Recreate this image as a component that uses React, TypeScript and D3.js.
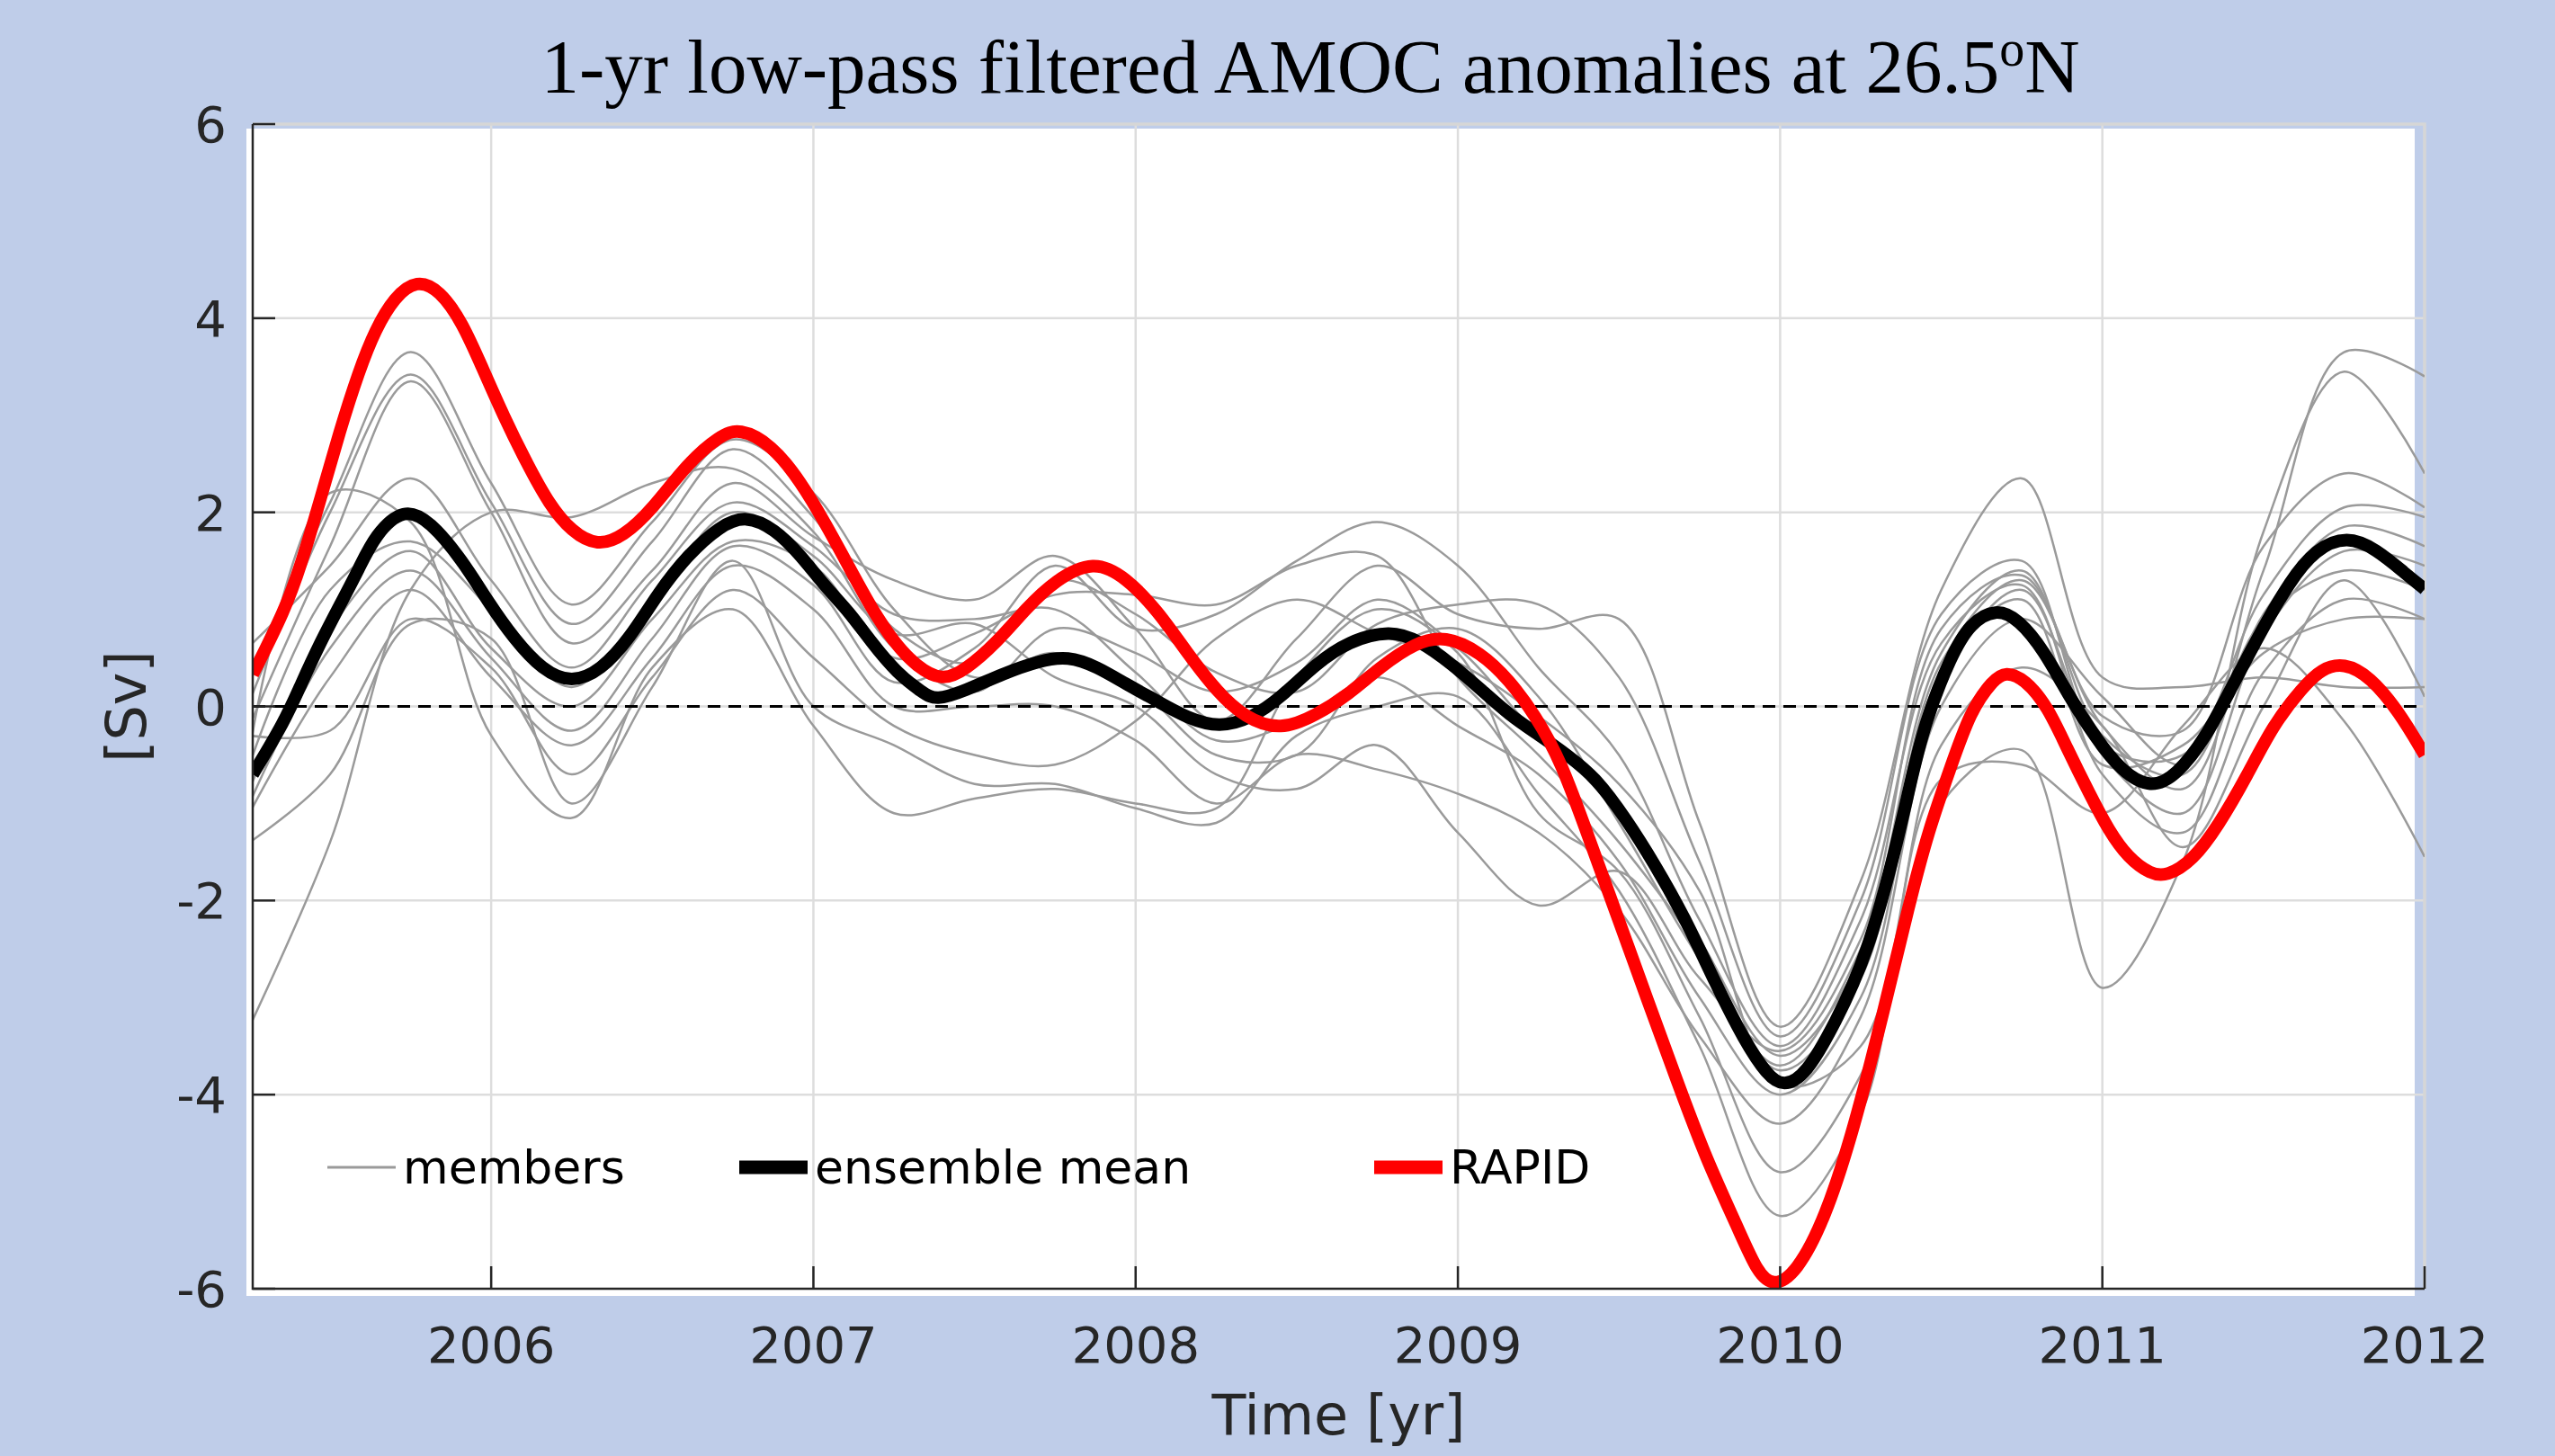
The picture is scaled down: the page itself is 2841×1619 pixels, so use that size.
import React, { useEffect, useRef } from 'react';
import * as d3 from 'd3';

const W = 2841;
const H = 1619;

const yearTicks = [2006, 2007, 2008, 2009, 2010, 2011, 2012];
const svTicks = [-6, -4, -2, 0, 2, 4, 6];

// ensemble members, read at quarter-year steps
const memberYears = [
  2005.25, 2005.5, 2005.75, 2006.0, 2006.25, 2006.5, 2006.75, 2007.0, 2007.25, 2007.5,
  2007.75, 2008.0, 2008.25, 2008.5, 2008.75, 2009.0, 2009.25, 2009.5, 2009.75, 2010.0,
  2010.25, 2010.5, 2010.75, 2011.0, 2011.25, 2011.5, 2011.75, 2012.0,
];
const memberA = [0.35, 2.1, 3.65, 2.3, 1.05, 1.9, 2.75, 2.2, 1.0, 0.3, 0.55, 0.2, -0.5, -0.5, 0.5, 0.8, 0.1, -1.2, -2.6, -3.7, -2.5, 0.55, 1.4, -0.3, -0.7, 1.4, 3.65, 3.4];
const memberB = [0.05, 2.0, 3.42, 2.1, 0.85, 1.7, 2.65, 1.95, 0.8, 0.45, 1.3, 0.95, 0.35, 0.15, 0.85, 1.05, 1.05, 0.3, -1.6, -3.4, -2.0, 0.95, 1.5, -0.4, -0.5, 1.15, 2.05, 1.95];
const memberC = [-0.2, 1.65, 3.35, 2.0, 0.65, 1.4, 2.3, 1.75, 1.3, 1.1, 1.55, 0.8, -0.15, 0.7, 1.45, 0.95, 0.8, 0.9, -1.2, -3.3, -1.8, 1.2, 2.35, 0.3, 0.2, 0.3, 0.2, 0.2];
const memberD = [0.62, 1.45, 2.35, 1.3, 0.4, 1.3, 2.1, 1.65, 0.95, 0.9, 1.0, 0.35, -0.35, -0.15, 0.3, -0.2, -0.7, -1.6, -3.0, -4.0, -3.0, 0.25, 1.2, -0.5, -1.1, 0.75, 1.6, 1.45];
const memberE = [-0.45, 2.2, 1.9, -0.3, -1.15, 0.4, 1.0, -0.2, -1.1, -0.95, -0.85, -1.0, -1.05, 0.3, 1.0, 0.55, -1.1, -1.7, -3.2, -4.8, -3.8, -1.0, -0.45, -2.9, -1.6, 1.8, 3.45, 2.4];
const memberF = [-0.6, 1.2, 1.7, 1.0, 0.2, 1.1, 2.0, 1.55, 0.75, 0.85, 0.3, 0.0, -0.7, -0.85, -0.4, -1.3, -2.05, -1.7, -2.8, -3.55, -2.4, 0.8, 1.35, -0.1, -0.25, 1.65, 2.4, 2.05];
const memberG = [-0.85, 0.8, 1.6, 0.6, 0.0, 0.9, 1.7, 1.45, 0.5, 0.75, 1.15, 1.15, 1.05, 1.45, 1.55, 0.3, -0.5, -1.4, -2.5, -3.75, -2.8, 0.35, 1.1, -0.6, -0.4, 0.55, 0.9, 0.9];
const memberH = [-1.0, 0.6, 1.4, 0.5, -0.25, 0.7, 1.65, 1.25, 0.25, 0.6, 1.45, 0.8, 0.95, 1.5, 1.9, 1.45, 0.4, -0.5, -2.2, -3.5, -2.2, 0.65, 1.25, -0.7, -1.3, 0.35, 1.1, 0.9];
const memberI = [-1.1, 0.3, 1.2, 0.3, -0.4, 0.5, 1.45, 1.0, 0.0, 0.0, 0.0, -0.35, -1.0, -0.5, -0.65, -0.9, -1.3, -2.1, -3.4, -4.3, -3.2, 0.0, 0.9, 0.1, -0.6, 0.9, 1.4, 1.2];
const memberJ = [-1.4, -0.7, 0.85, 0.7, -1.0, 0.2, 1.5, 0.0, -0.4, -0.8, -0.8, -1.05, -1.2, -0.3, 0.0, 0.1, -0.9, -1.9, -3.5, -5.25, -4.2, -0.75, -0.6, -1.1, -0.2, 0.6, -0.15, -1.55];
const memberK = [-3.3, -1.4, 1.2, 2.0, 1.95, 2.3, 2.45, 1.8, 0.6, 0.15, 0.8, 0.55, 0.15, 0.45, 1.1, 0.6, -0.3, -1.0, -2.4, -3.6, -2.6, 0.45, 1.3, -0.2, -0.85, 0.95, 1.85, 1.65];
const memberL = [-0.3, -0.25, 0.9, 0.4, -0.7, 0.3, 1.2, 0.5, -0.2, -0.5, -0.6, -0.15, 0.7, 1.1, 0.75, 0.45, -0.1, -0.8, -1.9, -3.9, -3.5, -0.4, 0.4, -0.2, -1.45, 0.0, 1.3, 0.1];
const members = [memberA, memberB, memberC, memberD, memberE, memberF, memberG, memberH, memberI, memberJ, memberK, memberL];

// ensemble mean
const meanYears = [
  2005.26, 2005.36, 2005.41, 2005.47, 2005.53, 2005.59, 2005.64, 2005.73, 2005.81, 2005.91,
  2005.99, 2006.07, 2006.16, 2006.25, 2006.34, 2006.43, 2006.52, 2006.61, 2006.71, 2006.79,
  2006.88, 2006.96, 2007.04, 2007.11, 2007.18, 2007.26, 2007.34, 2007.38, 2007.47, 2007.59,
  2007.70, 2007.79, 2007.88, 2007.97, 2008.07, 2008.16, 2008.26, 2008.36, 2008.45, 2008.56,
  2008.66, 2008.79, 2008.88, 2008.98, 2009.07, 2009.16, 2009.25, 2009.34, 2009.43, 2009.52,
  2009.61, 2009.71, 2009.80, 2009.89, 2009.96, 2010.01, 2010.08, 2010.17, 2010.27, 2010.36,
  2010.40, 2010.45, 2010.53, 2010.59, 2010.67, 2010.74, 2010.82, 2010.89, 2010.98, 2011.06,
  2011.15, 2011.23, 2011.32, 2011.40, 2011.49, 2011.58, 2011.66, 2011.76, 2011.85, 2011.94,
  2012.0,
];
const meanValues = [
  -0.70, -0.15, 0.23, 0.66, 1.04, 1.42, 1.77, 2.05, 1.91, 1.51,
  1.08, 0.70, 0.37, 0.24, 0.37, 0.70, 1.18, 1.56, 1.86, 1.97,
  1.83, 1.56, 1.22, 0.98, 0.66, 0.34, 0.14, 0.06, 0.16, 0.34,
  0.47, 0.52, 0.41, 0.23, 0.05, -0.12, -0.22, -0.12, 0.09, 0.44,
  0.67, 0.79, 0.68, 0.44, 0.18, -0.09, -0.29, -0.50, -0.74, -1.15,
  -1.62, -2.21, -2.86, -3.45, -3.80, -3.92, -3.80, -3.27, -2.57, -1.45,
  -0.85, -0.15, 0.52, 0.86, 1.01, 0.90, 0.57, 0.14, -0.33, -0.67,
  -0.85, -0.71, -0.33, 0.19, 0.76, 1.28, 1.62, 1.76, 1.62, 1.37,
  1.21,
];

// RAPID observations
const rapidYears = [
  2005.26, 2005.36, 2005.41, 2005.47, 2005.53, 2005.59, 2005.64, 2005.70, 2005.77, 2005.84,
  2005.91, 2005.97, 2006.04, 2006.11, 2006.18, 2006.25, 2006.33, 2006.41, 2006.50, 2006.61,
  2006.71, 2006.77, 2006.87, 2006.96, 2007.04, 2007.11, 2007.18, 2007.25, 2007.32, 2007.40,
  2007.47, 2007.57, 2007.66, 2007.75, 2007.87, 2007.97, 2008.07, 2008.16, 2008.25, 2008.34,
  2008.45, 2008.56, 2008.66, 2008.76, 2008.87, 2008.96, 2009.07, 2009.16, 2009.24, 2009.32,
  2009.41, 2009.50, 2009.59, 2009.68, 2009.77, 2009.87, 2009.93, 2009.98, 2010.05, 2010.14,
  2010.23, 2010.32, 2010.40, 2010.46, 2010.53, 2010.59, 2010.66, 2010.70, 2010.76, 2010.83,
  2010.89, 2010.96, 2011.02, 2011.08, 2011.15, 2011.20, 2011.28, 2011.36, 2011.45, 2011.53,
  2011.62, 2011.68, 2011.75, 2011.83, 2011.92, 2012.0,
];
const rapidValues = [
  0.33, 0.99, 1.46, 2.13, 2.84, 3.46, 3.88, 4.22, 4.40, 4.29,
  3.96, 3.51, 2.98, 2.51, 2.08, 1.80, 1.65, 1.75, 2.03, 2.51,
  2.79, 2.87, 2.70, 2.32, 1.87, 1.44, 1.01, 0.66, 0.41, 0.26,
  0.37, 0.66, 1.01, 1.30, 1.51, 1.33, 0.98, 0.55, 0.16, -0.12,
  -0.25, -0.09, 0.12, 0.41, 0.66, 0.73, 0.56, 0.27, -0.09, -0.56,
  -1.39, -2.21, -3.04, -3.86, -4.66, -5.38, -5.84, -5.98, -5.84, -5.28,
  -4.34, -3.16, -2.04, -1.28, -0.62, -0.05, 0.27, 0.36, 0.28, 0.00,
  -0.43, -0.90, -1.28, -1.56, -1.73, -1.75, -1.59, -1.23, -0.71, -0.19,
  0.19, 0.39, 0.45, 0.31, -0.05, -0.50,
];

const legendItems = [
  { label: 'members', color: '#9a9a9a', width: 3 },
  { label: 'ensemble mean', color: '#000000', width: 15 },
  { label: 'RAPID', color: '#ff0000', width: 15 },
];

const App = () => {
  const ref = useRef<SVGSVGElement>(null);

  useEffect(() => {
    const svg = d3.select(ref.current);
    svg.selectAll('*').remove();

    const left = 281, right = 2696, top = 138, bottom = 1433;
    const font = 'DejaVu Sans, sans-serif';
    const ink = '#262626';

    const x = d3.scaleLinear().domain([2005.26, 2012]).range([left, right]);
    const y = d3.scaleLinear().domain([-6, 6]).range([bottom, top]);

    svg.append('rect').attr('width', W).attr('height', H).attr('fill', '#bfcde9');
    // the white axes background sits slightly offset from the axes box
    svg.append('rect')
      .attr('x', 274).attr('y', 143)
      .attr('width', 2411).attr('height', 1298)
      .attr('fill', '#ffffff');

    svg.append('defs').append('clipPath').attr('id', 'plotclip')
      .append('rect')
      .attr('x', left).attr('y', top)
      .attr('width', right - left).attr('height', bottom - top);

    // grid
    const grid = svg.append('g').attr('stroke', '#dddddd').attr('stroke-width', 2.5);
    grid.selectAll('.vg')
      .data(yearTicks.filter(d => d < 2012))
      .enter()
      .append('line')
      .attr('x1', d => x(d)).attr('x2', d => x(d))
      .attr('y1', top).attr('y2', bottom);
    grid.selectAll('.hg')
      .data(svTicks.filter(d => d > -6 && d < 6))
      .enter()
      .append('line')
      .attr('x1', left).attr('x2', right)
      .attr('y1', d => y(d)).attr('y2', d => y(d));

    // light box edges (top, right)
    svg.append('path')
      .attr('d', `M${left},${top}H${right}V${bottom}`)
      .attr('fill', 'none')
      .attr('stroke', '#d6d6d6')
      .attr('stroke-width', 3.5);

    const plot = svg.append('g').attr('clip-path', 'url(#plotclip)');

    const thin = d3.line<[number, number]>()
      .x(d => x(d[0]))
      .y(d => y(d[1]))
      .curve(d3.curveCatmullRom.alpha(0.5));

    const thick = d3.line<[number, number]>()
      .x(d => x(d[0]))
      .y(d => y(d[1]))
      .curve(d3.curveBasis);

    plot.selectAll('.member')
      .data(members)
      .enter()
      .append('path')
      .attr('class', 'member')
      .attr('d', vals => thin(vals.map((v, i) => [memberYears[i], v] as [number, number])))
      .attr('fill', 'none')
      .attr('stroke', '#9a9a9a')
      .attr('stroke-width', 2.5);

    plot.append('line')
      .attr('x1', left).attr('x2', right)
      .attr('y1', y(0)).attr('y2', y(0))
      .attr('stroke', '#000')
      .attr('stroke-width', 3)
      .attr('stroke-dasharray', '14 9');

    plot.append('path')
      .attr('d', thick(meanValues.map((v, i) => [meanYears[i], v] as [number, number])))
      .attr('fill', 'none')
      .attr('stroke', '#000')
      .attr('stroke-width', 14)
      .attr('stroke-linejoin', 'round');

    plot.append('path')
      .attr('d', thick(rapidValues.map((v, i) => [rapidYears[i], v] as [number, number])))
      .attr('fill', 'none')
      .attr('stroke', '#ff0000')
      .attr('stroke-width', 14)
      .attr('stroke-linejoin', 'round');

    // axes (left and bottom dark, ticks inside)
    const axes = svg.append('g').attr('stroke', ink).attr('stroke-width', 2.5);
    axes.append('path')
      .attr('d', `M${left},${top}V${bottom}H${right}`)
      .attr('fill', 'none');
    axes.selectAll('.yt')
      .data(svTicks)
      .enter()
      .append('line')
      .attr('x1', left).attr('x2', left + 25)
      .attr('y1', d => y(d)).attr('y2', d => y(d));
    axes.selectAll('.xt')
      .data(yearTicks)
      .enter()
      .append('line')
      .attr('x1', d => x(d)).attr('x2', d => x(d))
      .attr('y1', bottom).attr('y2', bottom - 25);

    svg.selectAll('.ylab')
      .data(svTicks)
      .enter()
      .append('text')
      .attr('x', 252)
      .attr('y', d => y(d) + 20)
      .attr('text-anchor', 'end')
      .attr('font-family', font)
      .attr('font-size', 56)
      .attr('fill', ink)
      .text(d => String(d));

    svg.selectAll('.xlab')
      .data(yearTicks)
      .enter()
      .append('text')
      .attr('x', d => x(d))
      .attr('y', 1515)
      .attr('text-anchor', 'middle')
      .attr('font-family', font)
      .attr('font-size', 56)
      .attr('fill', ink)
      .text(d => String(d));

    svg.append('text')
      .attr('x', (left + right) / 2)
      .attr('y', 1595)
      .attr('text-anchor', 'middle')
      .attr('font-family', font)
      .attr('font-size', 62)
      .attr('fill', ink)
      .text('Time [yr]');

    svg.append('text')
      .attr('transform', `translate(162,${y(0)}) rotate(-90)`)
      .attr('text-anchor', 'middle')
      .attr('font-family', font)
      .attr('font-size', 62)
      .attr('fill', ink)
      .text('[Sv]');

    const title = svg.append('text')
      .attr('x', 1457)
      .attr('y', 103)
      .attr('text-anchor', 'middle')
      .attr('font-family', 'Liberation Serif, Times New Roman, serif')
      .attr('font-size', 85)
      .attr('fill', '#000');
    title.append('tspan').text('1-yr low-pass filtered AMOC anomalies at 26.5');
    title.append('tspan').attr('font-size', 56).attr('dy', -30).text('o');
    title.append('tspan').attr('dy', 30).text('N');

    // legend
    const legendX = [364, 822, 1528];
    const legend = svg.append('g');
    legendItems.forEach((item, i) => {
      legend.append('line')
        .attr('x1', legendX[i]).attr('x2', legendX[i] + 76)
        .attr('y1', 1298).attr('y2', 1298)
        .attr('stroke', item.color)
        .attr('stroke-width', item.width);
      legend.append('text')
        .attr('x', legendX[i] + 84)
        .attr('y', 1316)
        .attr('font-family', font)
        .attr('font-size', 52)
        .attr('fill', '#000')
        .text(item.label);
    });
  }, []);

  return (
    <svg
      ref={ref}
      width={W}
      height={H}
      style={{ position: 'absolute', left: 0, top: 0, display: 'block' }}
    />
  );
};

export default App;
